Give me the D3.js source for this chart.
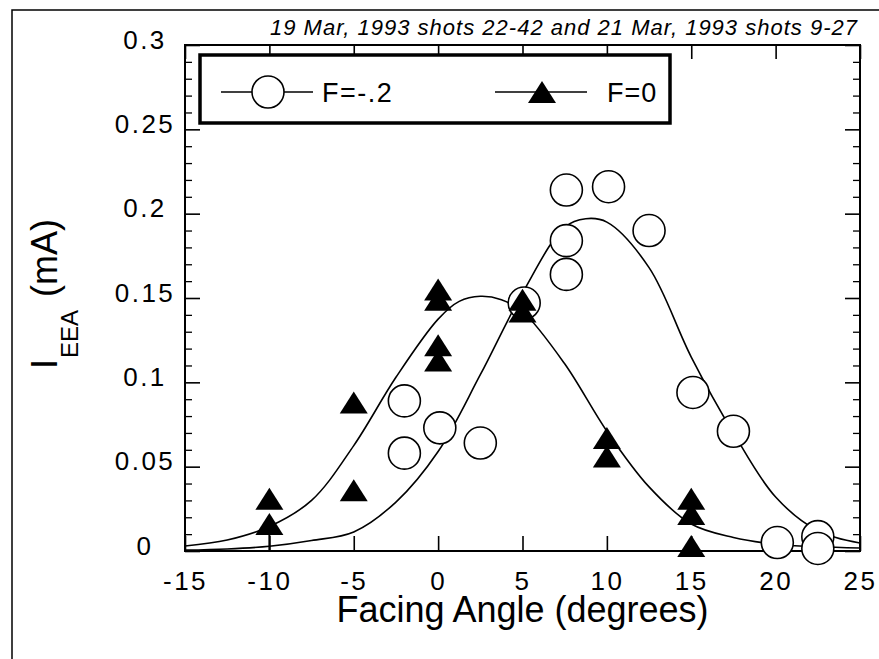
<!DOCTYPE html>
<html>
<head>
<meta charset="utf-8">
<script src="https://cdn.jsdelivr.net/npm/d3@7"></script>
<style>
  body { margin: 0; background: #fff; }
  svg { display: block; }
  text { font-family: "Liberation Sans", Arial, Helvetica, sans-serif; fill: #000; }
</style>
</head>
<body>
<svg id="chart" width="879" height="659"></svg>
<script>
// ---- data -------------------------------------------------------------
const title = "19 Mar, 1993 shots 22-42 and 21 Mar, 1993 shots 9-27";
const seriesNames = ["F=-.2", "F=0"];

// F = -.2 shots (open circles)
const circAngle   = [-2, -2, 0.1, 2.5, 5.1, 7.6, 7.6, 7.6, 10.1, 12.5, 15.1, 17.5, 20.1, 22.5, 22.5];
const circCurrent = [0.089, 0.058, 0.073, 0.064, 0.147, 0.214, 0.184, 0.164, 0.216, 0.190, 0.094, 0.071, 0.005, 0.0085, 0.0015];

// F = 0 shots (filled triangles)
const triAngle    = [-10, -10, -5, -5, 0, 0, 0, 0, 5, 5, 10, 10, 15, 15, 15];
const triCurrent  = [0.031, 0.016, 0.088, 0.036, 0.155, 0.149, 0.122, 0.113, 0.149, 0.142, 0.067, 0.056, 0.031, 0.022, 0.003];
const triErrDown  = [0, 0.016, 0, 0, 0, 0, 0, 0, 0, 0, 0, 0, 0, 0, 0];

// fitted curves
const fitCircAngle   = [-15, -12.5, -10, -7.5, -5, -2.5, 0, 2.5, 5, 7.5, 8.75, 10, 12.5, 15, 17.5, 20, 22.5, 25];
const fitCircCurrent = [0.0005, 0.0012, 0.0028, 0.0062, 0.0113, 0.029, 0.059, 0.1045, 0.153, 0.192, 0.197, 0.195, 0.168, 0.115, 0.070, 0.032, 0.012, 0.0047];
const fitTriAngle    = [-15, -12.5, -10, -7.5, -5, -2.5, 0, 1.25, 2.5, 3.75, 5, 7.5, 10, 12.5, 15, 17.5, 20, 22.5, 25];
const fitTriCurrent  = [0.003, 0.0065, 0.0145, 0.030, 0.0625, 0.103, 0.1375, 0.148, 0.151, 0.149, 0.142, 0.111, 0.071, 0.038, 0.016, 0.008, 0.004, 0.0025, 0.0018];

const xTicks = [-15, -10, -5, 0, 5, 10, 15, 20, 25];
const xTickLabels = ["-15", "-10", "-5", "0", "5", "10", "15", "20", "25"];
const yTicks = [0, 0.05, 0.1, 0.15, 0.2, 0.25, 0.3];
const yTickLabels = ["0", "0.05", "0.1", "0.15", "0.2", "0.25", "0.3"];
const yMinorTicks = [0.01, 0.02, 0.03, 0.04, 0.06, 0.07, 0.08, 0.09, 0.11, 0.12, 0.13, 0.14,
                     0.16, 0.17, 0.18, 0.19, 0.21, 0.22, 0.23, 0.24, 0.26, 0.27, 0.28, 0.29];

// ---- layout -------------------------------------------------------------
const svg = d3.select("#chart");
const L = 185, R = 860, T = 45, B = 551;
const x = d3.scaleLinear().domain([-15, 25]).range([L, R]);
const y = d3.scaleLinear().domain([0, 0.3]).range([B, T]);

// page border (left and top)
svg.append("path")
  .attr("d", "M12,659 L12,10 L879,10")
  .attr("fill", "none").attr("stroke", "#000").attr("stroke-width", 1.5);

// title
svg.append("text")
  .attr("x", 857).attr("y", 35)
  .attr("text-anchor", "end")
  .attr("textLength", 587)
  .style("font-size", "22px").style("font-style", "italic")
  .text(title);

// ---- axes ---------------------------------------------------------------
function styleAxis(g, width) {
  g.select(".domain").remove();
  g.selectAll(".tick line").attr("stroke", "#000").attr("stroke-width", width);
}

const gx = svg.append("g").attr("transform", `translate(0,${B})`)
  .call(d3.axisBottom(x).tickValues(xTicks).tickFormat((d, i) => xTickLabels[i])
        .tickSizeInner(-15).tickSizeOuter(0).tickPadding(21));
styleAxis(gx, 1.6);
gx.selectAll(".tick text").style("font-size", "26px").style("letter-spacing", "2.5px");

svg.append("g").attr("transform", `translate(0,${T})`)
  .call(d3.axisTop(x).tickValues(xTicks).tickSizeInner(-14).tickSizeOuter(0).tickFormat(""))
  .call(g => styleAxis(g, 1.6));

const gy = svg.append("g").attr("transform", `translate(${L},0)`)
  .call(d3.axisLeft(y).tickValues(yTicks).tickFormat((d, i) => yTickLabels[i])
        .tickSizeInner(-15).tickSizeOuter(0));
styleAxis(gy, 1.6);
gy.selectAll(".tick text")
  .attr("x", -40).attr("y", -5)
  .attr("text-anchor", "middle")
  .style("font-size", "26px").style("letter-spacing", "2.5px");

svg.append("g").attr("transform", `translate(${L},0)`)
  .call(d3.axisLeft(y).tickValues(yMinorTicks).tickSizeInner(-7).tickSizeOuter(0).tickFormat(""))
  .call(g => styleAxis(g, 1.3));

svg.append("g").attr("transform", `translate(${R},0)`)
  .call(d3.axisRight(y).tickValues(yTicks).tickSizeInner(-15).tickSizeOuter(0).tickFormat(""))
  .call(g => styleAxis(g, 1.6));
svg.append("g").attr("transform", `translate(${R},0)`)
  .call(d3.axisRight(y).tickValues(yMinorTicks).tickSizeInner(-7).tickSizeOuter(0).tickFormat(""))
  .call(g => styleAxis(g, 1.3));

// plot frame
svg.append("rect")
  .attr("x", L).attr("y", T).attr("width", R - L).attr("height", B - T)
  .attr("fill", "none").attr("stroke", "#000").attr("stroke-width", 2);

// axis titles
svg.append("text")
  .attr("x", (L + R) / 2).attr("y", 622)
  .attr("text-anchor", "middle")
  .style("font-size", "36px")
  .text("Facing Angle (degrees)");

const yl = svg.append("text")
  .attr("transform", "translate(57,369) rotate(-90)")
  .style("font-size", "36px");
yl.append("tspan").text("I");
yl.append("tspan").attr("dy", 21).attr("dx", 1).style("font-size", "24px").text("EEA");
yl.append("tspan").attr("dy", -21).attr("dx", 13).text("(mA)");

// ---- fitted curves ------------------------------------------------------
svg.append("clipPath").attr("id", "plotClip")
  .append("rect").attr("x", L).attr("y", T).attr("width", R - L).attr("height", B - T);

const line = d3.line().curve(d3.curveCatmullRom.alpha(0.5))
  .x(d => x(d[0])).y(d => y(d[1]));

const curves = svg.append("g").attr("clip-path", "url(#plotClip)");
curves.append("path")
  .datum(fitTriAngle.map((a, i) => [a, fitTriCurrent[i]]))
  .attr("d", line).attr("fill", "none").attr("stroke", "#000").attr("stroke-width", 1.6);
curves.append("path")
  .datum(fitCircAngle.map((a, i) => [a, fitCircCurrent[i]]))
  .attr("d", line).attr("fill", "none").attr("stroke", "#000").attr("stroke-width", 1.6);

// ---- legend -------------------------------------------------------------
const triPath = "M0,-11 L14,11 L-14,11 Z";
const lg = svg.append("g");
lg.append("rect").attr("x", 200).attr("y", 55).attr("width", 470).attr("height", 68)
  .attr("fill", "#fff").attr("stroke", "#000").attr("stroke-width", 3.5);
lg.append("line").attr("x1", 221).attr("x2", 313).attr("y1", 92).attr("y2", 92)
  .attr("stroke", "#000").attr("stroke-width", 1.6);
lg.append("circle").attr("cx", 268).attr("cy", 92).attr("r", 16)
  .attr("fill", "#fff").attr("stroke", "#000").attr("stroke-width", 1.6);
lg.append("text").attr("x", 322).attr("y", 102).style("font-size", "27px")
  .style("letter-spacing", "1.5px").text(seriesNames[0]);
lg.append("line").attr("x1", 495).attr("x2", 587).attr("y1", 92).attr("y2", 92)
  .attr("stroke", "#000").attr("stroke-width", 1.6);
lg.append("path").attr("d", triPath).attr("transform", "translate(542,92)").attr("fill", "#000");
lg.append("text").attr("x", 607).attr("y", 102).style("font-size", "27px")
  .style("letter-spacing", "1px").text(seriesNames[1]);

// ---- markers ------------------------------------------------------------
svg.append("g").selectAll("circle")
  .data(circAngle.map((a, i) => [a, circCurrent[i]]))
  .join("circle")
  .attr("cx", d => x(d[0])).attr("cy", d => y(d[1])).attr("r", 16)
  .attr("fill", "#fff").attr("stroke", "#000").attr("stroke-width", 1.6);

const triData = triAngle.map((a, i) => ({ a, v: triCurrent[i], e: triErrDown[i] }));
svg.append("g").selectAll("line")
  .data(triData.filter(d => d.e > 0))
  .join("line")
  .attr("x1", d => x(d.a)).attr("x2", d => x(d.a))
  .attr("y1", d => y(d.v)).attr("y2", d => y(d.v - d.e))
  .attr("stroke", "#000").attr("stroke-width", 2);
svg.append("g").selectAll("path")
  .data(triData)
  .join("path")
  .attr("d", triPath)
  .attr("transform", d => `translate(${x(d.a)},${y(d.v)})`)
  .attr("fill", "#000");
</script>
</body>
</html>
